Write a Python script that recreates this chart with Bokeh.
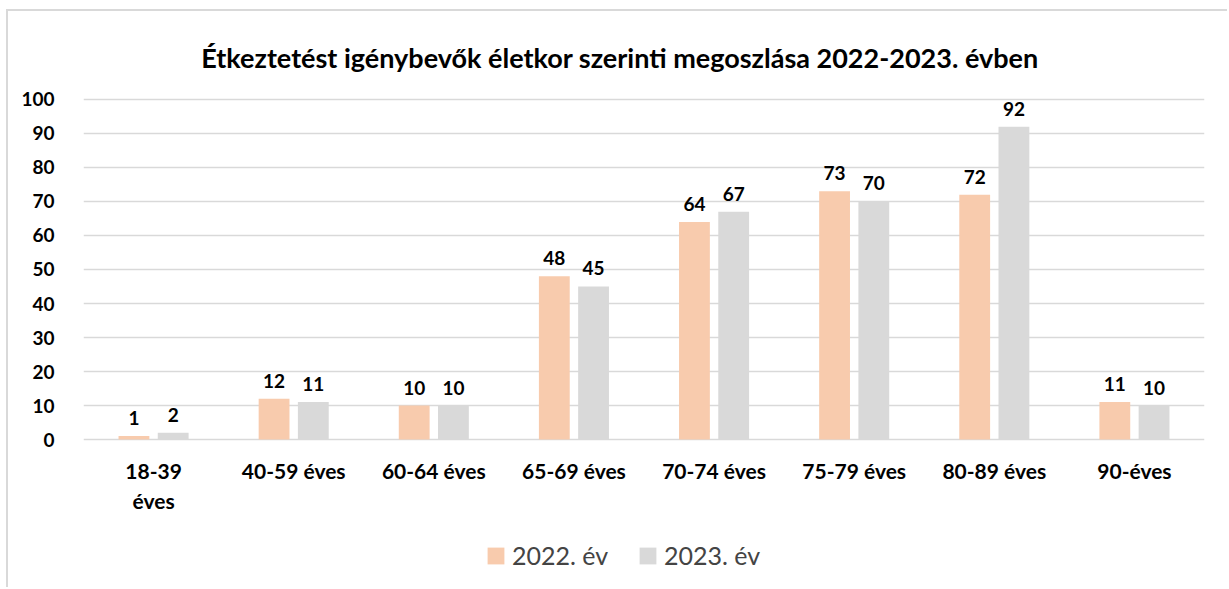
from bokeh.plotting import figure
from bokeh.models import Range1d, FactorRange, Legend, LegendItem, ColumnDataSource, FixedTicker, Label
from bokeh.transform import dodge
from bokeh.core.properties import value
from bokeh.embed import file_html
from bokeh.resources import INLINE

# ---- data ----
categories = ["18-39\néves", "40-59 éves", "60-64 éves", "65-69 éves",
              "70-74 éves", "75-79 éves", "80-89 éves", "90-éves"]
values_2022 = [1, 12, 10, 48, 64, 73, 72, 11]
values_2023 = [2, 11, 10, 45, 67, 70, 92, 10]
series_names = ["2022. év", "2023. év"]
y_ticks = [0, 10, 20, 30, 40, 50, 60, 70, 80, 90, 100]
title_text = "Étkeztetést igénybevők életkor szerinti megoszlása 2022-2023. évben"

colors = ["#F8CBAD", "#D9D9D9"]
FONT = "Lato"

src = ColumnDataSource(dict(
    cat=categories,
    v22=values_2022,
    v23=values_2023,
    l22=[str(v) for v in values_2022],
    l23=[str(v) for v in values_2023],
))

# frame spans page y 20..586 ; value 0 at page 439, 100 at page 99 (3.4 px / unit)
W, H = 1221, 578
p = figure(width=W, height=H,
           x_range=FactorRange(*categories), y_range=Range1d(-43.235, 123.235),
           output_backend="svg", toolbar_location=None,
           min_border_left=75, min_border_right=25,
           min_border_top=9, min_border_bottom=3)
p.styles = {"border-top": "2px solid #d9d9d9", "border-left": "2px solid #d9d9d9",
            "margin-left": "6px", "margin-top": "9px"}
p.outline_line_color = None
p.background_fill_color = "white"
p.border_fill_color = "white"

off = 0.14
bw = 0.22
r1 = p.vbar(x=dodge("cat", -off, range=p.x_range), top="v22", width=bw, source=src,
            fill_color=colors[0], line_color=None)
r2 = p.vbar(x=dodge("cat", off, range=p.x_range), top="v23", width=bw, source=src,
            fill_color=colors[1], line_color=None)

for key, lab, o in (("v22", "l22", -off), ("v23", "l23", off)):
    p.text(x=dodge("cat", o, range=p.x_range), y=key, text=lab, source=src,
           text_align="center", text_baseline="alphabetic", y_offset=-18,
           text_font=value(FONT), text_font_style="bold", text_font_size="19px",
           text_color="black")

# axes
p.xgrid.grid_line_color = None
p.ygrid.grid_line_color = "#D9D9D9"
p.ygrid.grid_line_width = 1.5
p.yaxis.ticker = FixedTicker(ticks=y_ticks)
p.xaxis.fixed_location = 0
for ax in (p.xaxis[0], p.yaxis[0]):
    ax.axis_line_color = None
    ax.major_tick_line_color = None
    ax.minor_tick_line_color = None
    ax.major_label_text_font = FONT
    ax.major_label_text_font_style = "bold"
    ax.major_label_text_color = "black"
p.yaxis.major_label_text_font_size = "19px"
p.xaxis.major_label_text_font_size = "21px"
p.yaxis.major_label_standoff = 23
p.xaxis.major_label_standoff = 12

# title (inside the frame, centred at x=619px of the page)
p.add_layout(Label(x=3.829, y=112.35, text=title_text, text_align="center",
                   text_baseline="alphabetic", text_font=FONT, text_font_style="bold",
                   text_font_size="27px", text_color="black"))

legend = Legend(items=[LegendItem(label=series_names[0], renderers=[r1]),
                       LegendItem(label=series_names[1], renderers=[r2])],
                orientation="horizontal", location=(402, 16),
                padding=0, margin=0, spacing=25, border_line_color=None,
                background_fill_alpha=0, glyph_width=21, glyph_height=21,
                label_height=21, label_standoff=6, label_width=100,
                label_text_font=FONT, label_text_font_size="25px")
p.add_layout(legend, "center")

open("out.html", "w").write(file_html(p, INLINE))
